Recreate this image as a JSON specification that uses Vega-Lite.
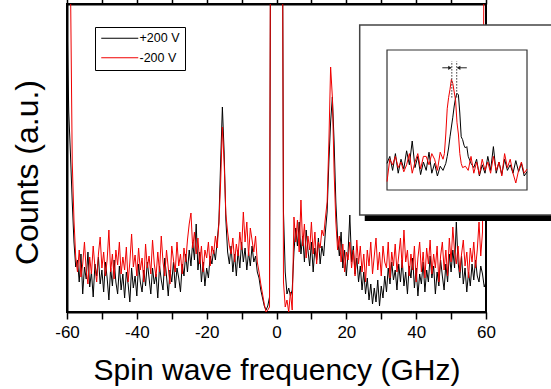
{
  "$schema": "https://vega.github.io/schema/vega-lite/v6.json",
  "width": 419,
  "height": 308,
  "autosize": {"type": "none"},
  "padding": {"left": 67, "top": 4, "right": 65, "bottom": 77},
  "background": "white",
  "config": {
    "font": "Liberation Sans",
    "view": {"stroke": "black", "strokeWidth": 2},
    "axis": {"grid": false, "domainColor": "black", "domainWidth": 2, "tickColor": "black", "tickWidth": 1.5, "labelColor": "black", "titleColor": "black", "labelFont": "Liberation Sans", "titleFont": "Liberation Sans", "titleFontWeight": "normal"}
  },
  "datasets": {
    "main": [
      {"f":-60,"+200 V":300,"-200 V":500},{"f":-59.5,"+200 V":200,"-200 V":450},{"f":-59,"+200 V":157,"-200 V":330},{"f":-58.5,"+200 V":110,"-200 V":150},
      {"f":-58,"+200 V":70,"-200 V":92},{"f":-57.5,"+200 V":45,"-200 V":55},{"f":-57,"+200 V":52,"-200 V":40},{"f":-56.5,"+200 V":30,"-200 V":62},
      {"f":-56,"+200 V":58,"-200 V":35},{"f":-55.5,"+200 V":18,"-200 V":48},{"f":-55,"+200 V":45,"-200 V":70},{"f":-54.5,"+200 V":33,"-200 V":42},
      {"f":-54,"+200 V":60,"-200 V":28},{"f":-53.5,"+200 V":25,"-200 V":55},{"f":-53,"+200 V":40,"-200 V":38},{"f":-52.5,"+200 V":15,"-200 V":66},
      {"f":-52,"+200 V":48,"-200 V":45},{"f":-51.5,"+200 V":36,"-200 V":30},{"f":-51,"+200 V":55,"-200 V":58},{"f":-50.5,"+200 V":28,"-200 V":75},
      {"f":-50,"+200 V":42,"-200 V":44},{"f":-49.5,"+200 V":20,"-200 V":60},{"f":-49,"+200 V":50,"-200 V":36},{"f":-48.5,"+200 V":34,"-200 V":52},
      {"f":-48,"+200 V":12,"-200 V":82},{"f":-47.5,"+200 V":44,"-200 V":40},{"f":-47,"+200 V":26,"-200 V":58},{"f":-46.5,"+200 V":52,"-200 V":33},
      {"f":-46,"+200 V":30,"-200 V":62},{"f":-45.5,"+200 V":18,"-200 V":47},{"f":-45,"+200 V":46,"-200 V":70},{"f":-44.5,"+200 V":22,"-200 V":38},
      {"f":-44,"+200 V":38,"-200 V":55},{"f":-43.5,"+200 V":14,"-200 V":42},{"f":-43,"+200 V":40,"-200 V":65},{"f":-42.5,"+200 V":28,"-200 V":30},
      {"f":-42,"+200 V":10,"-200 V":50},{"f":-41.5,"+200 V":44,"-200 V":78},{"f":-41,"+200 V":24,"-200 V":45},{"f":-40.5,"+200 V":36,"-200 V":57},
      {"f":-40,"+200 V":16,"-200 V":36},{"f":-39.5,"+200 V":48,"-200 V":64},{"f":-39,"+200 V":30,"-200 V":42},{"f":-38.5,"+200 V":20,"-200 V":54},
      {"f":-38,"+200 V":42,"-200 V":30},{"f":-37.5,"+200 V":26,"-200 V":68},{"f":-37,"+200 V":50,"-200 V":44},{"f":-36.5,"+200 V":34,"-200 V":56},
      {"f":-36,"+200 V":18,"-200 V":38},{"f":-35.5,"+200 V":44,"-200 V":72},{"f":-35,"+200 V":28,"-200 V":48},{"f":-34.5,"+200 V":38,"-200 V":35},
      {"f":-34,"+200 V":14,"-200 V":60},{"f":-33.5,"+200 V":46,"-200 V":40},{"f":-33,"+200 V":32,"-200 V":76},{"f":-32.5,"+200 V":22,"-200 V":50},
      {"f":-32,"+200 V":54,"-200 V":36},{"f":-31.5,"+200 V":36,"-200 V":62},{"f":-31,"+200 V":16,"-200 V":44},{"f":-30.5,"+200 V":42,"-200 V":28},
      {"f":-30,"+200 V":30,"-200 V":66},{"f":-29.5,"+200 V":50,"-200 V":52},{"f":-29,"+200 V":24,"-200 V":40},{"f":-28.5,"+200 V":44,"-200 V":70},
      {"f":-28,"+200 V":34,"-200 V":46},{"f":-27.5,"+200 V":20,"-200 V":58},{"f":-27,"+200 V":48,"-200 V":38},{"f":-26.5,"+200 V":36,"-200 V":64},
      {"f":-26,"+200 V":58,"-200 V":50},{"f":-25.5,"+200 V":40,"-200 V":72},{"f":-25,"+200 V":62,"-200 V":88},{"f":-24.5,"+200 V":46,"-200 V":99},
      {"f":-24,"+200 V":70,"-200 V":64},{"f":-23.5,"+200 V":52,"-200 V":80},{"f":-23,"+200 V":88,"-200 V":58},{"f":-22.5,"+200 V":42,"-200 V":74},
      {"f":-22,"+200 V":60,"-200 V":48},{"f":-21.5,"+200 V":30,"-200 V":66},{"f":-21,"+200 V":50,"-200 V":40},{"f":-20.5,"+200 V":26,"-200 V":62},
      {"f":-20,"+200 V":44,"-200 V":54},{"f":-19.5,"+200 V":34,"-200 V":70},{"f":-19,"+200 V":56,"-200 V":46},{"f":-18.5,"+200 V":48,"-200 V":66},
      {"f":-18,"+200 V":62,"-200 V":58},{"f":-17.5,"+200 V":52,"-200 V":76},{"f":-17,"+200 V":70,"-200 V":64},{"f":-16.5,"+200 V":90,"-200 V":88},
      {"f":-16,"+200 V":150,"-200 V":130},{"f":-15.5,"+200 V":205,"-200 V":185},{"f":-15,"+200 V":160,"-200 V":150},{"f":-14.5,"+200 V":92,"-200 V":98},
      {"f":-14,"+200 V":60,"-200 V":80},{"f":-13.5,"+200 V":48,"-200 V":66},{"f":-13,"+200 V":66,"-200 V":58},{"f":-12.5,"+200 V":40,"-200 V":74},
      {"f":-12,"+200 V":58,"-200 V":50},{"f":-11.5,"+200 V":36,"-200 V":68},{"f":-11,"+200 V":62,"-200 V":56},{"f":-10.5,"+200 V":44,"-200 V":80},
      {"f":-10,"+200 V":70,"-200 V":62},{"f":-9.5,"+200 V":50,"-200 V":100},{"f":-9,"+200 V":64,"-200 V":70},{"f":-8.5,"+200 V":42,"-200 V":90},
      {"f":-8,"+200 V":60,"-200 V":56},{"f":-7.5,"+200 V":46,"-200 V":84},{"f":-7,"+200 V":66,"-200 V":72},{"f":-6.5,"+200 V":50,"-200 V":60},
      {"f":-6,"+200 V":56,"-200 V":76},{"f":-5.5,"+200 V":40,"-200 V":50},{"f":-5,"+200 V":34,"-200 V":40},{"f":-4.5,"+200 V":22,"-200 V":28},
      {"f":-4,"+200 V":14,"-200 V":18},{"f":-3.5,"+200 V":6,"-200 V":8},{"f":-3,"+200 V":2,"-200 V":0},{"f":-2.5,"+200 V":6,"-200 V":2},
      {"f":-2,"+200 V":15,"-200 V":5},{"f":-1.5,"+200 V":600,"-200 V":700},{"f":-1,"+200 V":800,"-200 V":900},{"f":-0.5,"+200 V":900,"-200 V":1000},
      {"f":0,"+200 V":1000,"-200 V":1000},{"f":0.5,"+200 V":900,"-200 V":1000},{"f":1,"+200 V":800,"-200 V":900},{"f":1.5,"+200 V":600,"-200 V":700},
      {"f":2,"+200 V":100,"-200 V":30},{"f":2.5,"+200 V":40,"-200 V":5},{"f":3,"+200 V":18,"-200 V":12},{"f":3.5,"+200 V":24,"-200 V":0},
      {"f":4,"+200 V":16,"-200 V":20},{"f":4.5,"+200 V":22,"-200 V":2},{"f":5,"+200 V":60,"-200 V":95},{"f":5.5,"+200 V":84,"-200 V":70},
      {"f":6,"+200 V":66,"-200 V":92},{"f":6.5,"+200 V":90,"-200 V":60},{"f":7,"+200 V":58,"-200 V":112},{"f":7.5,"+200 V":76,"-200 V":66},
      {"f":8,"+200 V":50,"-200 V":88},{"f":8.5,"+200 V":82,"-200 V":54},{"f":9,"+200 V":62,"-200 V":76},{"f":9.5,"+200 V":46,"-200 V":62},
      {"f":10,"+200 V":70,"-200 V":90},{"f":10.5,"+200 V":40,"-200 V":58},{"f":11,"+200 V":64,"-200 V":80},{"f":11.5,"+200 V":52,"-200 V":48},
      {"f":12,"+200 V":74,"-200 V":70},{"f":12.5,"+200 V":48,"-200 V":64},{"f":13,"+200 V":66,"-200 V":82},{"f":13.5,"+200 V":56,"-200 V":76},
      {"f":14,"+200 V":80,"-200 V":94},{"f":14.5,"+200 V":100,"-200 V":110},{"f":15,"+200 V":150,"-200 V":170},{"f":15.5,"+200 V":190,"-200 V":245},
      {"f":16,"+200 V":215,"-200 V":215},{"f":16.5,"+200 V":170,"-200 V":140},{"f":17,"+200 V":110,"-200 V":90},{"f":17.5,"+200 V":74,"-200 V":62},
      {"f":18,"+200 V":56,"-200 V":76},{"f":18.5,"+200 V":80,"-200 V":50},{"f":19,"+200 V":44,"-200 V":68},{"f":19.5,"+200 V":62,"-200 V":40},
      {"f":20,"+200 V":36,"-200 V":60},{"f":20.5,"+200 V":60,"-200 V":52},{"f":21,"+200 V":97,"-200 V":70},{"f":21.5,"+200 V":50,"-200 V":44},
      {"f":22,"+200 V":66,"-200 V":62},{"f":22.5,"+200 V":38,"-200 V":36},{"f":23,"+200 V":54,"-200 V":72},{"f":23.5,"+200 V":30,"-200 V":48},
      {"f":24,"+200 V":46,"-200 V":66},{"f":24.5,"+200 V":22,"-200 V":40},{"f":25,"+200 V":40,"-200 V":58},{"f":25.5,"+200 V":18,"-200 V":30},
      {"f":26,"+200 V":34,"-200 V":62},{"f":26.5,"+200 V":12,"-200 V":46},{"f":27,"+200 V":28,"-200 V":70},{"f":27.5,"+200 V":8,"-200 V":38},
      {"f":28,"+200 V":24,"-200 V":56},{"f":28.5,"+200 V":10,"-200 V":74},{"f":29,"+200 V":32,"-200 V":42},{"f":29.5,"+200 V":6,"-200 V":60},
      {"f":30,"+200 V":26,"-200 V":36},{"f":30.5,"+200 V":14,"-200 V":66},{"f":31,"+200 V":36,"-200 V":50},{"f":31.5,"+200 V":20,"-200 V":44},
      {"f":32,"+200 V":44,"-200 V":70},{"f":32.5,"+200 V":28,"-200 V":34},{"f":33,"+200 V":50,"-200 V":60},{"f":33.5,"+200 V":32,"-200 V":46},
      {"f":34,"+200 V":42,"-200 V":68},{"f":34.5,"+200 V":22,"-200 V":40},{"f":35,"+200 V":48,"-200 V":56},{"f":35.5,"+200 V":30,"-200 V":74},
      {"f":36,"+200 V":52,"-200 V":44},{"f":36.5,"+200 V":26,"-200 V":82},{"f":37,"+200 V":40,"-200 V":50},{"f":37.5,"+200 V":18,"-200 V":62},
      {"f":38,"+200 V":46,"-200 V":36},{"f":38.5,"+200 V":34,"-200 V":58},{"f":39,"+200 V":54,"-200 V":42},{"f":39.5,"+200 V":24,"-200 V":66},
      {"f":40,"+200 V":44,"-200 V":30},{"f":40.5,"+200 V":16,"-200 V":54},{"f":41,"+200 V":38,"-200 V":70},{"f":41.5,"+200 V":28,"-200 V":40},
      {"f":42,"+200 V":50,"-200 V":60},{"f":42.5,"+200 V":20,"-200 V":34},{"f":43,"+200 V":42,"-200 V":64},{"f":43.5,"+200 V":30,"-200 V":48},
      {"f":44,"+200 V":56,"-200 V":72},{"f":44.5,"+200 V":34,"-200 V":38},{"f":45,"+200 V":46,"-200 V":58},{"f":45.5,"+200 V":18,"-200 V":44},
      {"f":46,"+200 V":40,"-200 V":66},{"f":46.5,"+200 V":26,"-200 V":30},{"f":47,"+200 V":52,"-200 V":56},{"f":47.5,"+200 V":36,"-200 V":70},
      {"f":48,"+200 V":22,"-200 V":42},{"f":48.5,"+200 V":48,"-200 V":62},{"f":49,"+200 V":30,"-200 V":36},{"f":49.5,"+200 V":58,"-200 V":74},
      {"f":50,"+200 V":40,"-200 V":50},{"f":50.5,"+200 V":62,"-200 V":85},{"f":51,"+200 V":44,"-200 V":60},{"f":51.5,"+200 V":90,"-200 V":48},
      {"f":52,"+200 V":50,"-200 V":66},{"f":52.5,"+200 V":34,"-200 V":40},{"f":53,"+200 V":56,"-200 V":58},{"f":53.5,"+200 V":28,"-200 V":72},
      {"f":54,"+200 V":44,"-200 V":46},{"f":54.5,"+200 V":20,"-200 V":60},{"f":55,"+200 V":40,"-200 V":34},{"f":55.5,"+200 V":26,"-200 V":64},
      {"f":56,"+200 V":48,"-200 V":50},{"f":56.5,"+200 V":32,"-200 V":70},{"f":57,"+200 V":52,"-200 V":44},{"f":57.5,"+200 V":36,"-200 V":62},
      {"f":58,"+200 V":30,"-200 V":90},{"f":58.5,"+200 V":46,"-200 V":56},{"f":59,"+200 V":38,"-200 V":80},{"f":59.5,"+200 V":25,"-200 V":400},
      {"f":60,"+200 V":30,"-200 V":500}
    ],
    "inset": [
      {"u":0,"s":"+200 V","c":19},{"u":2,"s":"+200 V","c":24},{"u":4,"s":"+200 V","c":14},{"u":6,"s":"+200 V","c":26},{"u":8,"s":"+200 V","c":12},
      {"u":10,"s":"+200 V","c":22},{"u":12,"s":"+200 V","c":15},{"u":14,"s":"+200 V","c":28},{"u":16,"s":"+200 V","c":18},{"u":18,"s":"+200 V","c":35},
      {"u":20,"s":"+200 V","c":16},{"u":22,"s":"+200 V","c":24},{"u":24,"s":"+200 V","c":11},{"u":26,"s":"+200 V","c":20},{"u":28,"s":"+200 V","c":14},
      {"u":30,"s":"+200 V","c":27},{"u":32,"s":"+200 V","c":12},{"u":34,"s":"+200 V","c":19},{"u":36,"s":"+200 V","c":10},{"u":38,"s":"+200 V","c":17},
      {"u":40,"s":"+200 V","c":14},{"u":42,"s":"+200 V","c":19},{"u":43,"s":"+200 V","c":24},{"u":44,"s":"+200 V","c":30},{"u":45,"s":"+200 V","c":38},
      {"u":46,"s":"+200 V","c":45},{"u":47,"s":"+200 V","c":52},{"u":48,"s":"+200 V","c":60},{"u":49,"s":"+200 V","c":66},{"u":50,"s":"+200 V","c":69},
      {"u":51,"s":"+200 V","c":68},{"u":52,"s":"+200 V","c":55},{"u":53,"s":"+200 V","c":38},{"u":54,"s":"+200 V","c":36},{"u":55,"s":"+200 V","c":32},
      {"u":56,"s":"+200 V","c":30},{"u":57,"s":"+200 V","c":31},{"u":58,"s":"+200 V","c":24},{"u":60,"s":"+200 V","c":19},{"u":62,"s":"+200 V","c":16},
      {"u":64,"s":"+200 V","c":22},{"u":66,"s":"+200 V","c":10},{"u":68,"s":"+200 V","c":18},{"u":70,"s":"+200 V","c":12},{"u":72,"s":"+200 V","c":24},
      {"u":74,"s":"+200 V","c":14},{"u":76,"s":"+200 V","c":31},{"u":78,"s":"+200 V","c":12},{"u":80,"s":"+200 V","c":20},{"u":82,"s":"+200 V","c":11},
      {"u":84,"s":"+200 V","c":22},{"u":86,"s":"+200 V","c":14},{"u":88,"s":"+200 V","c":18},{"u":90,"s":"+200 V","c":12},{"u":92,"s":"+200 V","c":21},
      {"u":94,"s":"+200 V","c":13},{"u":96,"s":"+200 V","c":19},{"u":98,"s":"+200 V","c":10},{"u":100,"s":"+200 V","c":13},
      {"u":0,"s":"-200 V","c":6},{"u":2,"s":"-200 V","c":22},{"u":4,"s":"-200 V","c":18},{"u":6,"s":"-200 V","c":24},{"u":8,"s":"-200 V","c":16},
      {"u":10,"s":"-200 V","c":20},{"u":12,"s":"-200 V","c":13},{"u":14,"s":"-200 V","c":18},{"u":16,"s":"-200 V","c":26},{"u":18,"s":"-200 V","c":12},
      {"u":20,"s":"-200 V","c":20},{"u":22,"s":"-200 V","c":26},{"u":24,"s":"-200 V","c":15},{"u":26,"s":"-200 V","c":24},{"u":28,"s":"-200 V","c":24},
      {"u":30,"s":"-200 V","c":18},{"u":32,"s":"-200 V","c":26},{"u":34,"s":"-200 V","c":22},{"u":36,"s":"-200 V","c":14},{"u":38,"s":"-200 V","c":27},
      {"u":40,"s":"-200 V","c":22},{"u":41,"s":"-200 V","c":26},{"u":42,"s":"-200 V","c":40},{"u":43,"s":"-200 V","c":58},{"u":44,"s":"-200 V","c":66},
      {"u":45,"s":"-200 V","c":72},{"u":46,"s":"-200 V","c":79},{"u":47,"s":"-200 V","c":76},{"u":48,"s":"-200 V","c":70},{"u":49,"s":"-200 V","c":64},
      {"u":50,"s":"-200 V","c":48},{"u":51,"s":"-200 V","c":40},{"u":52,"s":"-200 V","c":26},{"u":53,"s":"-200 V","c":19},{"u":54,"s":"-200 V","c":16},
      {"u":56,"s":"-200 V","c":17},{"u":58,"s":"-200 V","c":14},{"u":60,"s":"-200 V","c":24},{"u":62,"s":"-200 V","c":12},{"u":64,"s":"-200 V","c":20},
      {"u":66,"s":"-200 V","c":11},{"u":68,"s":"-200 V","c":22},{"u":70,"s":"-200 V","c":14},{"u":72,"s":"-200 V","c":20},{"u":74,"s":"-200 V","c":12},
      {"u":76,"s":"-200 V","c":24},{"u":78,"s":"-200 V","c":14},{"u":80,"s":"-200 V","c":20},{"u":82,"s":"-200 V","c":10},{"u":84,"s":"-200 V","c":26},
      {"u":86,"s":"-200 V","c":16},{"u":88,"s":"-200 V","c":22},{"u":90,"s":"-200 V","c":12},{"u":92,"s":"-200 V","c":5},{"u":94,"s":"-200 V","c":14},
      {"u":96,"s":"-200 V","c":20},{"u":98,"s":"-200 V","c":12},{"u":100,"s":"-200 V","c":15}
    ],
    "peaks": [{"u":46.3},{"u":49.8}]
  },
  "layer": [
    {
      "data": {"name": "main"},
      "transform": [{"fold": ["+200 V", "-200 V"], "as": ["s", "c"]}],
      "layer": [
        {
          "mark": {"type": "line", "clip": true, "strokeWidth": 1},
          "encoding": {
            "x": {
              "field": "f", "type": "quantitative",
              "scale": {"domain": [-60, 60], "nice": false, "zero": false},
              "axis": {
                "orient": "bottom",
                "values": [-60, -50, -40, -30, -20, -10, 0, 10, 20, 30, 40, 50, 60],
                "labelExpr": "datum.value % 20 === 0 ? '' + datum.value : ''",
                "labelFontSize": 17, "labelPadding": 5, "tickSize": 7,
                "labelOverlap": false, "labelFlush": false,
                "title": "Spin wave frequency (GHz)", "titleFontSize": 30, "titlePadding": 15,
                "encode": {"ticks": {"update": {"y2": {"signal": "datum.value % 20 === 0 ? 7 : 3.5"}}}}
              }
            },
            "y": {
              "field": "c", "type": "quantitative",
              "scale": {"domain": [0, 308], "nice": false, "zero": false},
              "axis": {"ticks": false, "labels": false, "title": "Counts (a.u.)", "titleFontSize": 32, "titlePadding": 23, "titleY": 168}
            },
            "color": {
              "field": "s", "type": "nominal",
              "scale": {"domain": ["+200 V", "-200 V"], "range": ["#000000", "#f00000"]},
              "legend": {
                "orient": "none", "legendX": 28, "legendY": 23, "title": null,
                "symbolType": "M-1,0H6.4", "symbolSize": 100, "symbolStrokeWidth": 1.2,
                "labelOffset": 27, "labelFontSize": 12.5, "labelFont": "Liberation Sans", "labelColor": "black",
                "padding": 5, "rowPadding": 6.5, "strokeColor": "black", "fillColor": "white",
                "labelExpr": "datum.label + '   '"
              }
            }
          }
        },
        {
          "mark": {"type": "point", "opacity": 0},
          "encoding": {
            "x": {
              "field": "f", "type": "quantitative",
              "axis": {
                "orient": "top",
                "values": [-60, -50, -40, -30, -20, -10, 0, 10, 20, 30, 40, 50, 60],
                "labels": false, "title": null, "tickSize": 7,
                "encode": {"ticks": {"update": {"y2": {"signal": "datum.value % 20 === 0 ? 7 : 4"}}}}
              }
            }
          }
        }
      ],
      "resolve": {"axis": {"x": "independent"}}
    },
    {
      "layer": [
        {
          "data": {"values": [{}]},
          "mark": {"type": "rect", "fill": "black", "clip": false},
          "encoding": {
            "x": {"datum": -15.9, "type": "quantitative", "scale": {"domain": [-228.57, 70.71], "nice": false, "zero": false}, "axis": null},
            "x2": {"datum": 140},
            "y": {"datum": -22.1, "type": "quantitative", "scale": {"domain": [-87.14, 132.86], "nice": false, "zero": false}, "axis": null},
            "y2": {"datum": 114.3}
          }
        },
        {
          "data": {"values": [{}]},
          "mark": {"type": "rect", "fill": "white", "stroke": "#444444", "strokeWidth": 1.5, "clip": false},
          "encoding": {
            "x": {"datum": -19.5, "type": "quantitative", "scale": {"domain": [-228.57, 70.71], "nice": false, "zero": false}, "axis": null},
            "x2": {"datum": 135},
            "y": {"datum": -17.9, "type": "quantitative", "scale": {"domain": [-87.14, 132.86], "nice": false, "zero": false}, "axis": null},
            "y2": {"datum": 117.9}
          }
        },
        {
          "data": {"values": [{}]},
          "mark": {"type": "rect", "fillOpacity": 0, "stroke": "#333333", "strokeWidth": 1.2, "clip": false},
          "encoding": {
            "x": {"datum": 0, "type": "quantitative", "scale": {"domain": [-228.57, 70.71], "nice": false, "zero": false}, "axis": null},
            "x2": {"datum": 100},
            "y": {"datum": 0, "type": "quantitative", "scale": {"domain": [-87.14, 132.86], "nice": false, "zero": false}, "axis": null},
            "y2": {"datum": 100}
          }
        },
        {
          "data": {"name": "inset"},
          "mark": {"type": "line", "strokeWidth": 1, "clip": false},
          "encoding": {
            "x": {"field": "u", "type": "quantitative", "scale": {"domain": [-228.57, 70.71], "nice": false, "zero": false}, "axis": null},
            "y": {"field": "c", "type": "quantitative", "scale": {"domain": [-87.14, 132.86], "nice": false, "zero": false}, "axis": null},
            "color": {"field": "s", "type": "nominal", "legend": null}
          }
        },
        {
          "data": {"name": "peaks"},
          "mark": {"type": "rule", "color": "#333333", "strokeWidth": 1, "strokeDash": [1.5, 1.5], "clip": false},
          "encoding": {
            "x": {"field": "u", "type": "quantitative", "scale": {"domain": [-228.57, 70.71], "nice": false, "zero": false}, "axis": null},
            "y": {"datum": 66, "type": "quantitative", "scale": {"domain": [-87.14, 132.86], "nice": false, "zero": false}, "axis": null},
            "y2": {"datum": 92}
          }
        },
        {
          "data": {"values": [{}]},
          "mark": {"type": "rule", "color": "#222222", "strokeWidth": 1, "clip": false},
          "encoding": {
            "x": {"datum": 39.5, "type": "quantitative", "scale": {"domain": [-228.57, 70.71], "nice": false, "zero": false}, "axis": null},
            "x2": {"datum": 45.5},
            "y": {"datum": 87.3, "type": "quantitative", "scale": {"domain": [-87.14, 132.86], "nice": false, "zero": false}, "axis": null}
          }
        },
        {
          "data": {"values": [{}]},
          "mark": {"type": "rule", "color": "#222222", "strokeWidth": 1, "clip": false},
          "encoding": {
            "x": {"datum": 50.6, "type": "quantitative", "scale": {"domain": [-228.57, 70.71], "nice": false, "zero": false}, "axis": null},
            "x2": {"datum": 57},
            "y": {"datum": 87.3, "type": "quantitative", "scale": {"domain": [-87.14, 132.86], "nice": false, "zero": false}, "axis": null}
          }
        },
        {
          "data": {"values": [{}]},
          "mark": {"type": "point", "shape": "triangle-right", "filled": true, "color": "#222222", "size": 18, "opacity": 1, "clip": false},
          "encoding": {
            "x": {"datum": 45, "type": "quantitative", "scale": {"domain": [-228.57, 70.71], "nice": false, "zero": false}, "axis": null},
            "y": {"datum": 87.3, "type": "quantitative", "scale": {"domain": [-87.14, 132.86], "nice": false, "zero": false}, "axis": null}
          }
        },
        {
          "data": {"values": [{}]},
          "mark": {"type": "point", "shape": "triangle-left", "filled": true, "color": "#222222", "size": 18, "opacity": 1, "clip": false},
          "encoding": {
            "x": {"datum": 51.1, "type": "quantitative", "scale": {"domain": [-228.57, 70.71], "nice": false, "zero": false}, "axis": null},
            "y": {"datum": 87.3, "type": "quantitative", "scale": {"domain": [-87.14, 132.86], "nice": false, "zero": false}, "axis": null}
          }
        }
      ]
    }
  ],
  "resolve": {"scale": {"x": "independent", "y": "independent"}}
}
